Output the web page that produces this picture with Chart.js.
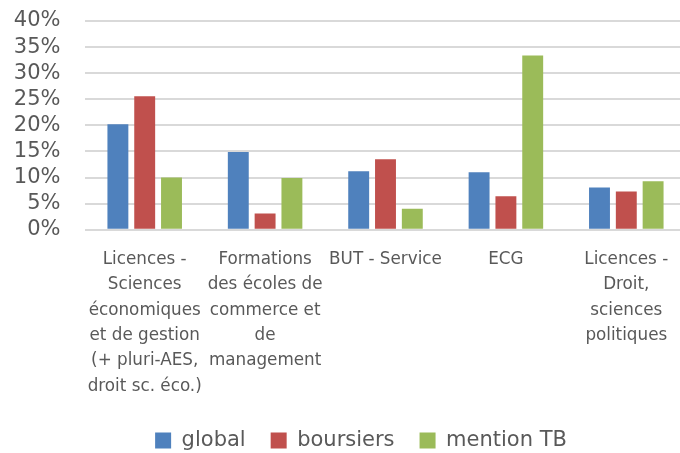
<!DOCTYPE html>
<html>
<head>
<meta charset="utf-8">
<script src="https://cdn.jsdelivr.net/npm/chart.js@4/dist/chart.umd.min.js"></script>
<style>
  html, body { margin: 0; padding: 0; background: #fff; overflow: hidden; width: 680px; height: 453px; }
  #wrap { width: 700px; height: 453px; }
</style>
</head>
<body>
<div id="wrap"><canvas id="c" width="700" height="453"></canvas></div>
<script>
const categories = [
  ["Licences -", "Sciences", "économiques", "et de gestion", "(+ pluri-AES,", "droit sc. éco.)"],
  ["Formations", "des écoles de", "commerce et", "de", "management"],
  ["BUT - Service"],
  ["ECG"],
  ["Licences -", "Droit,", "sciences", "politiques"]
];
const seriesNames = ["global", "boursiers", "mention TB"];
const globalValues = [20.2, 14.9, 11.2, 11.0, 8.1];
const boursiersValues = [25.6, 3.1, 13.5, 6.4, 7.3];
const mentionTBValues = [10.0, 9.9, 4.0, 33.4, 9.3];
const yTicks = [0, 5, 10, 15, 20, 25, 30, 35, 40];

const colors = ["#4F81BD", "#C0504D", "#9BBB59"];
const seriesValues = [globalValues, boursiersValues, mentionTBValues];

const legendShift = {
  id: 'legendShift',
  afterLayout(chart) {
    const lg = chart.legend;
    if (!lg) return;
    const d = 361 - (lg.left + lg.right) / 2;
    lg.left += d; lg.right += d;
    lg.top += 8; lg.bottom += 8;
  }
};

new Chart(document.getElementById('c'), {
  type: 'bar',
  data: {
    labels: categories,
    datasets: seriesNames.map((n, i) => ({
      label: n,
      data: seriesValues[i],
      backgroundColor: colors[i],
      borderWidth: 0,
      barPercentage: 0.78,
      categoryPercentage: 0.668
    }))
  },
  plugins: [legendShift],
  options: {
    responsive: false,
    animation: false,
    layout: { padding: { left: 0, right: 13.5, top: 21, bottom: 0 } },
    plugins: {
      tooltip: { enabled: false },
      legend: {
        position: 'bottom',
        labels: {
          boxWidth: 16,
          boxHeight: 16,
          padding: 25,
          color: '#595959',
          font: { family: 'DejaVu Sans', size: 21 }
        }
      }
    },
    scales: {
      x: {
        grid: { display: false },
        border: { display: false },
        ticks: {
          maxRotation: 0,
          autoSkip: false,
          padding: 9,
          color: '#595959',
          font: { family: 'DejaVu Sans', size: 16.8, lineHeight: 25.4 / 16.8 }
        },
        afterFit: (s) => { s.height = 167.3; }
      },
      y: {
        min: 0,
        max: 40,
        afterBuildTicks: (s) => { s.ticks = yTicks.map(v => ({ value: v })); },
        grid: { color: '#D9D9D9', lineWidth: 2, drawTicks: false },
        border: { display: false },
        ticks: {
          autoSkip: false,
          padding: 24,
          color: '#595959',
          font: { family: 'DejaVu Sans', size: 21 },
          callback: (v) => v + '%'
        },
        afterFit: (s) => { s.width = 84.5; s.paddingTop = 0; s.paddingBottom = 0; }
      }
    }
  }
});
</script>
</body>
</html>
